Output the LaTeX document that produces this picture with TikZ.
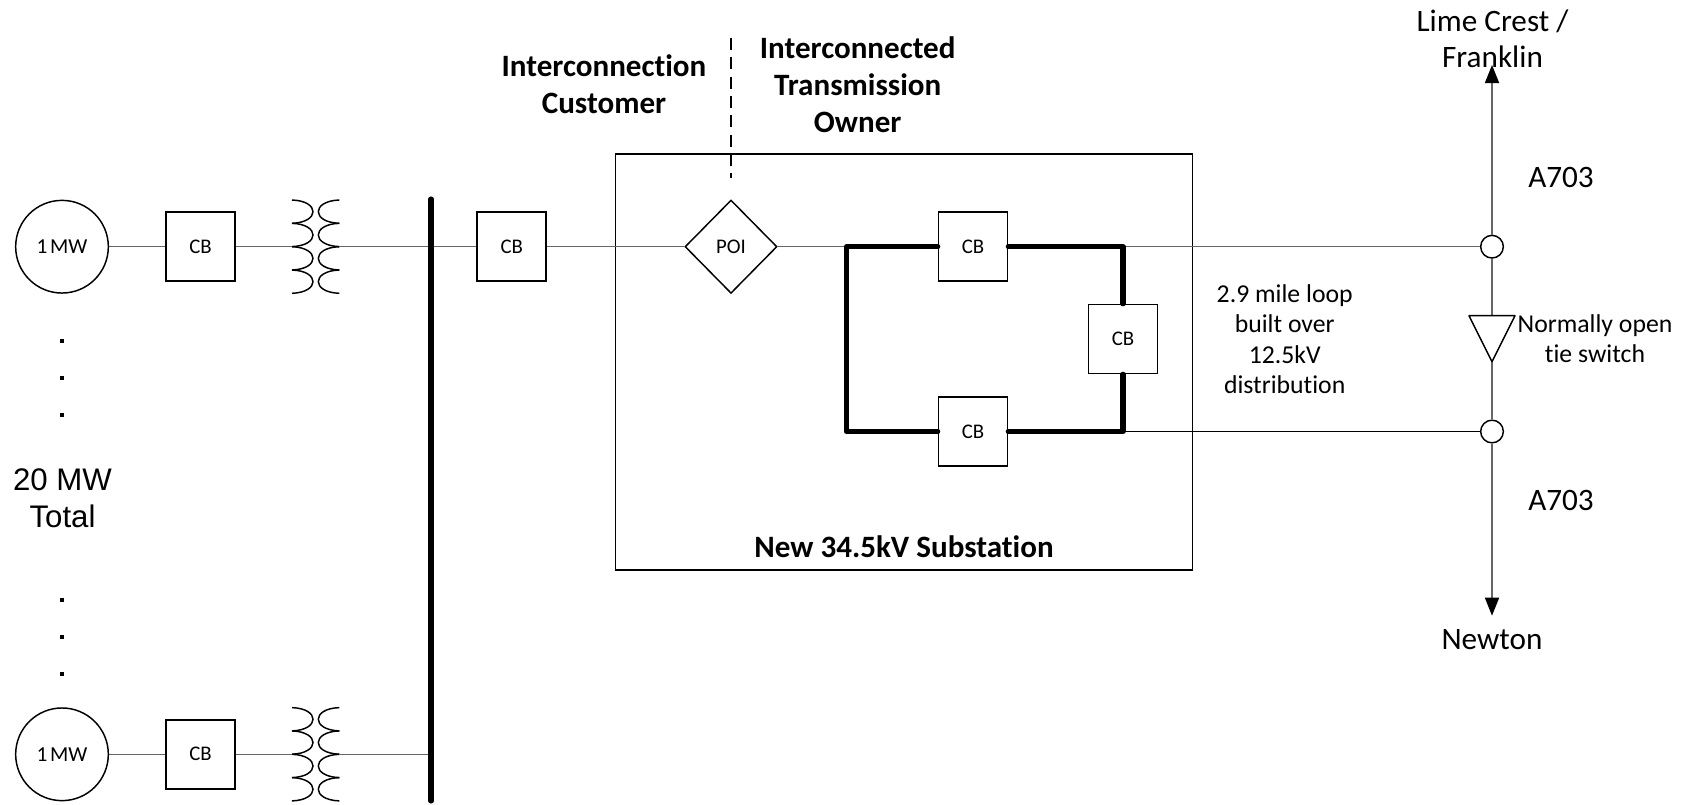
\documentclass[tikz,border=0pt]{standalone}
\usepackage{fontspec}
\setmainfont[Ligatures=NoCommon]{Carlito}
\newfontfamily\arialfont{Liberation Sans}
\newcommand{\arisize}{\fontsize{23.4}{27.7}\arialfont}
\usetikzlibrary{shapes.geometric,arrows.meta}
\definecolor{wire}{gray}{0.4}
\tikzset{
  box/.style={draw=black,line width=1.1pt,minimum size=51.75pt,inner sep=0pt,font=\fontsize{15.6}{18}\selectfont},
  gen/.style={draw=black,line width=1.1pt,circle,minimum size=69.5pt,inner sep=0pt,font=\fontsize{16}{18}\selectfont},
  jn/.style={draw=black,line width=1.1pt,circle,minimum size=17pt,inner sep=0pt,fill=white},
  poi/.style={draw=black,line width=1.1pt,diamond,aspect=1,minimum width=69pt,minimum height=70pt,inner sep=0pt,font=\fontsize{15.6}{18}\selectfont},
  wireln/.style={draw=wire,line width=1pt},
  wiredk/.style={draw=black,line width=0.9pt},
  heavy/.style={draw=black,line width=3.8pt,line cap=round,line join=round},
  coil/.style={draw=black,line width=1.1pt},
  lab/.style={inner sep=0pt,anchor=base,align=center},
  hugeL/.style={lab,font=\fontsize{23.4}{27.5}\selectfont},
  bigB/.style={lab,font=\bfseries\fontsize{23.3}{27.7}\selectfont},
  midL/.style={lab,font=\fontsize{19.3}{22.9}\selectfont},
  ariL/.style={lab,font=\fontsize{23.4}{27.7}\selectfont},
  dotm/.style={fill=black,inner sep=0pt,minimum size=3pt,rectangle},
  tipL/.style={-{Triangle[length=13.5pt,width=10.5pt,black]}}
}
\begin{document}
\begin{tikzpicture}[x=0.75pt,y=-0.75pt]
\useasboundingbox (0,0) rectangle (1688,804);
% substation frame
\node[draw=black,line width=1.1pt,minimum width=432.5pt,minimum height=312pt,inner sep=0pt] (sub) at (904,362) {};
% generators
\node[gen] (g1) at (62,246.7) {1\kern0.12em MW};
\node[gen] (g2) at (62,754.3) {1\kern0.12em MW};
\node[box] (cb1) at (200.5,246.7) {CB};
\node[box] (cb2) at (200.5,754.3) {CB};
\node[box] (cb3) at (511.7,246.7) {CB};
\node[poi] (poi) at (731,246.7) {POI};
\node[box] (cbT) at (973,246.7) {CB};
\node[box] (cbB) at (973,431.5) {CB};
\node[box] (cbR) at (1123,339) {CB};
\node[jn] (j1) at (1492,246.7) {};
\node[jn] (j2) at (1492,431.5) {};
% transformer terminals
\coordinate (t1L) at (292,246.7);
\coordinate (t1R) at (339.3,246.7);
\coordinate (t2L) at (292,754.3);
\coordinate (t2R) at (339.3,754.3);
\coordinate (busT) at (431,199);
\coordinate (busB) at (431,801);
% transformer coils
\foreach \yy in {200,223.3,246.7,270}{
  \draw[coil] (292,\yy) .. controls (320,{\yy+1}) and (320,{\yy+22.3}) .. (292,{\yy+23.3});
  \draw[coil] (339.3,\yy) .. controls (311.3,{\yy+1}) and (311.3,{\yy+22.3}) .. (339.3,{\yy+23.3});
}
\foreach \yy in {707.6,730.9,754.3,777.6}{
  \draw[coil] (292,\yy) .. controls (320,{\yy+1}) and (320,{\yy+22.3}) .. (292,{\yy+23.3});
  \draw[coil] (339.3,\yy) .. controls (311.3,{\yy+1}) and (311.3,{\yy+22.3}) .. (339.3,{\yy+23.3});
}
% thin connectors
\draw[wireln] (g1) -- (cb1);
\draw[wireln] (cb1) -- (t1L);
\draw[wireln] (t1R) -- (cb3);
\draw[wireln] (cb3) -- (poi);
\draw[wireln] (g2) -- (cb2);
\draw[wireln] (cb2) -- (t2L);
\draw[wireln] (t2R) -- (t2R -| busT);
\coordinate (lpTL) at (846.4,246.7);
\coordinate (lpBL) at (846.4,431.5);
\coordinate (lpTR) at (1123,246.7);
\coordinate (lpBR) at (1123,431.5);
\draw[wireln] (poi) -- (lpTL);
\draw[wireln] (lpTR) -- (j1);
\draw[wiredk] (lpBR) -- (j2);
% bus
\draw[draw=black,line width=3.8pt,line cap=round] (busT) -- (busB);
% heavy loop
\draw[heavy] (cbT.west) -- (lpTL) -- (lpBL) -- (cbB.west);
\draw[heavy] (cbT.east) -- (lpTR) -- (cbR.north);
\draw[heavy] (cbR.south) -- (lpBR) -- (cbB.east);
% tie line
\coordinate (swA) at (1469,315.7);
\coordinate (swB) at (1515,315.7);
\coordinate (swC) at (1492,361.7);
\coordinate (swM) at (1492,315.7);
\coordinate (topEnd) at (1492,65);
\coordinate (botEnd) at (1492,615.7);
\draw[wireln,line width=1.2pt,tipL] (j1) -- (topEnd);
\draw[wireln,line width=1.2pt] (j1) -- (swM);
\draw[wireln,line width=1.2pt] (swC) -- (j2);
\draw[wireln,line width=1.2pt,tipL] (j2) -- (botEnd);
\draw[black,line width=1.1pt,line join=round] (swA) -- (swB) -- (swC) -- cycle;
% dashed divider
\coordinate (dashT) at (731,38);
\coordinate (dashB) at (731,178);
\draw[black,line width=1pt,dash pattern=on 9pt off 5.5pt] (dashT) -- (dashB);
% dots
\foreach \nm/\yy in {a/341.3,b/378.3,c/415.3,d/600,e/637,f/674}{
  \node[dotm] (dot\nm) at (62,\yy) {};
}
% labels
\node[ariL] (total) at (62.5,527) {\arisize 20 MW\\\arisize Total};
\node[bigB] (ic) at (604,113.7) {Interconnection\\Customer};
\node[bigB] (ito) at (857.7,132) {Interconnected\\Transmission\\Owner};
\node[bigB] (subl) at (904,557) {New 34.5kV Substation};
\node[hugeL] (lime) at (1492.5,67.7) {Lime Crest /\\Franklin};
\node[hugeL] (a1) at (1561,187.7) {A703};
\node[hugeL] (a2) at (1561,510) {A703};
\node[hugeL] (newton) at (1492,649.3) {Newton};
\node[midL] (loop) at (1284.7,393.7) {2.9 mile loop\\built over\\12.5kV\\distribution};
\node[midL] (tie) at (1595,362.7) {Normally open\\tie switch};
\end{tikzpicture}
\end{document}
